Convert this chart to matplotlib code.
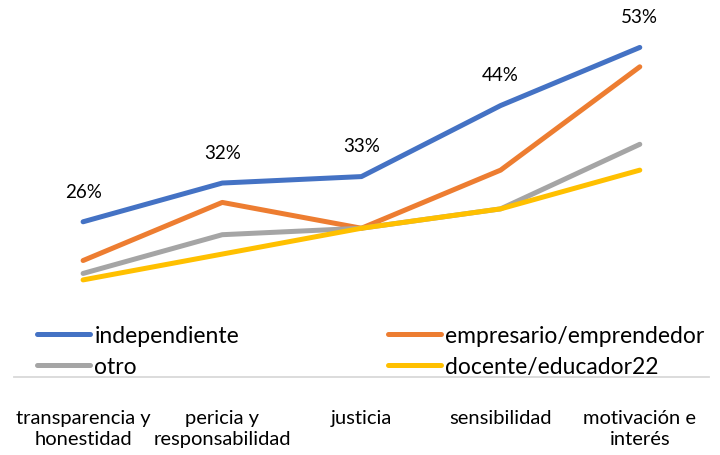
import matplotlib.pyplot as plt

# categories and series (percent)
categorias = ['transparencia y\nhonestidad', 'pericia y\nresponsabilidad', 'justicia',
              'sensibilidad', 'motivación e\ninterés']
independiente = [26, 32, 33, 44, 53]
empresario = [20, 29, 25, 34, 50]
otro = [18, 24, 25, 28, 38]
docente = [17, 21, 25, 28, 34]

plt.rcParams['font.family'] = ['Lato', 'DejaVu Sans']

fig = plt.figure(figsize=(7.2, 4.56), dpi=100)
ax = fig.add_axes([0.01875, 0.171, 0.9665, 0.829])

x = list(range(len(categorias)))
lw = 3.6
l1, = ax.plot(x, independiente, color='#4472C4', lw=lw, solid_capstyle='round', label='independiente')
l2, = ax.plot(x, empresario, color='#ED7D31', lw=lw, solid_capstyle='round', label='empresario/emprendedor')
l3, = ax.plot(x, otro, color='#A5A5A5', lw=lw, solid_capstyle='round', label='otro')
l4, = ax.plot(x, docente, color='#FFC000', lw=lw, solid_capstyle='round', label='docente/educador22')

# data labels only on the top series
for xi, v in zip(x, independiente):
    ax.annotate(f'{v}%', (xi, v), xytext=(0, 16), textcoords='offset points',
                ha='center', va='bottom', fontsize=13.5, color='#000000')

ax.set_xlim(-0.5, 4.5)
ax.set_ylim(1.96, 60.5)
ax.set_yticks([])
ax.set_xticks(x)
ax.set_xticklabels(categorias, fontsize=14.5, linespacing=1.3)
ax.tick_params(axis='x', length=0, pad=23)
for s in ['top', 'right', 'left']:
    ax.spines[s].set_visible(False)
ax.spines['bottom'].set_color('#D9D9D9')
ax.spines['bottom'].set_linewidth(1.3)

leg_kw = dict(loc='upper left', frameon=False, fontsize=16.5, handlelength=2.3,
              handletextpad=0.2, labelspacing=0.45, borderpad=0, borderaxespad=0)
leg1 = fig.legend([l1, l3], ['independiente', 'otro'],
                  bbox_to_anchor=(37 / 720, 1 - 326 / 456), **leg_kw)
fig.legend([l2, l4], ['empresario/emprendedor', 'docente/educador22'],
           bbox_to_anchor=(388 / 720, 1 - 326 / 456), **leg_kw)

fig.savefig('out.png', dpi=100)
